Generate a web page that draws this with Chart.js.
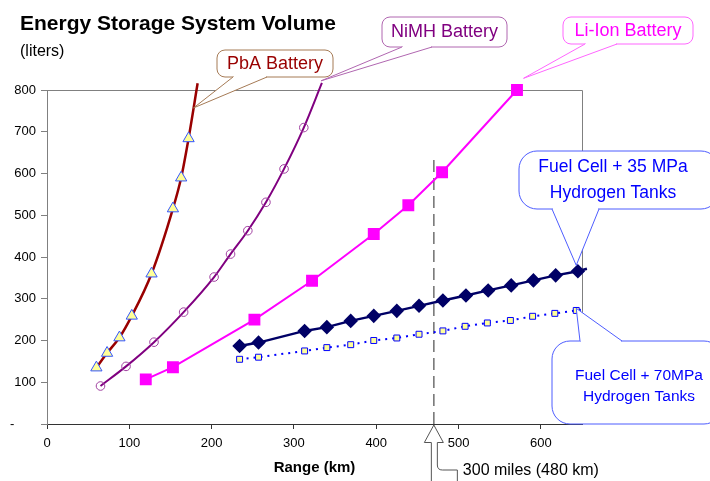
<!DOCTYPE html>
<html>
<head>
<meta charset="utf-8">
<script src="https://cdn.jsdelivr.net/npm/chart.js@4/dist/chart.umd.min.js"></script>
<style>
  body { margin: 0; background: #fff; }
  #volumeChart { display: block; }
</style>
</head>
<body>
<canvas id="volumeChart" width="710" height="481"></canvas>
<script>
// values (range in km, volume in liters)
const pbaRange = [60, 73, 88, 103, 127, 153, 163, 172, 183];
const pbaVolume = [135, 170, 207, 259, 360, 516, 590, 684, 816];

const nimhRange = [65, 96, 130, 166, 203, 223, 244, 266, 288, 312, 334];
const nimhVolume = [91, 138, 196, 268, 352, 407, 463, 531, 611, 710, 817];

const liionRange = [120, 153, 252, 322, 397, 439, 480, 571];
const liionVolume = [107, 136, 250, 343, 455, 524, 603, 800];

const h35Range = [234, 257, 313, 340, 369, 397, 425, 452, 481, 509, 536, 564, 591, 618, 645, 656];
const h35Volume = [187, 195, 223, 232, 247, 259, 271, 283, 296, 308, 320, 332, 344, 356, 366, 372];

const h70Range = [234, 257, 313, 340, 369, 397, 425, 452, 481, 508, 535, 563, 590, 617, 643, 654];
const h70Volume = [155, 160, 175, 183, 190, 200, 206, 215, 223, 234, 242, 248, 258, 265, 272, 275];

// 300 miles marker
const targetRange = [470, 470];
const targetVolume = [0, 640];

const xTicks = [0, 100, 200, 300, 400, 500, 600];
const yTicks = [0, 100, 200, 300, 400, 500, 600, 700, 800];

const FONT = '"Liberation Sans", Arial, sans-serif';

const pts = (xs, ys) => xs.map((x, i) => ({ x: x, y: ys[i] }));
// last point of some series is only the line running on, no marker
const lastHidden = (n, r) => Array.from({ length: n }, (_, i) => i === n - 1 ? 0 : r);

// callout bubbles: box in pixels, tip anchored to a data value
const callouts = [
  { lines: ['PbA Battery'], box: [217, 50, 116, 27], r: 8, size: 18, gap: 0, color: '#990000', edge: '#a57a55', side: 'bottom', base: [233, 267], tip: [178, 757] },
  { lines: ['NiMH Battery'], box: [382, 17, 125, 30], r: 8, size: 18, gap: 0, color: '#800080', edge: '#b066b0', side: 'bottom', base: [402, 432], tip: [333, 822] },
  { lines: ['Li-Ion Battery'], box: [563, 17, 130, 27], r: 8, size: 18, gap: 0, color: '#ff00ff', edge: '#ff66ff', side: 'bottom', base: [585, 617], tip: [579, 828] },
  { lines: ['Fuel Cell + 35 MPa', 'Hydrogen Tanks'], box: [519, 151, 200, 58], r: 18, size: 17.5, gap: 26, color: '#0000ff', edge: '#4d5cff', side: 'bottom', base: [552, 599], tip: [643, 380] },
  { lines: ['Fuel Cell + 70MPa', 'Hydrogen Tanks'], box: [552, 341, 170, 83], r: 18, size: 15.5, gap: 21, color: '#0000ff', edge: '#4d5cff', side: 'top', base: [580, 622], tip: [643, 277] },
];

function roundBox(c, x, y, w, h, r) {
  c.beginPath();
  c.moveTo(x + r, y);
  c.arcTo(x + w, y, x + w, y + h, r);
  c.arcTo(x + w, y + h, x, y + h, r);
  c.arcTo(x, y + h, x, y, r);
  c.arcTo(x, y, x + w, y, r);
  c.closePath();
}

const framePlugin = {
  id: 'frame',
  beforeDatasetsDraw(chart) {
    const { ctx, chartArea: a } = chart;
    ctx.save();
    ctx.strokeStyle = '#808080';
    ctx.lineWidth = 1;
    ctx.beginPath();
    ctx.moveTo(a.left, a.top + 0.5);
    ctx.lineTo(a.right + 0.5, a.top + 0.5);
    ctx.lineTo(a.right + 0.5, a.bottom);
    ctx.stroke();
    ctx.restore();
  },
  afterDraw(chart) {
    const { ctx, scales } = chart;
    ctx.save();
    // titles
    ctx.fillStyle = '#000';
    ctx.textAlign = 'left';
    ctx.textBaseline = 'alphabetic';
    ctx.font = 'bold 21px ' + FONT;
    ctx.fillText('Energy Storage System Volume', 20, 29.5);
    ctx.font = '16px ' + FONT;
    ctx.fillText('(liters)', 20, 56);

    // callouts
    callouts.forEach(c => {
      const [x, y, w, h] = c.box;
      const tx = scales.x.getPixelForValue(c.tip[0]);
      const ty = scales.y.getPixelForValue(c.tip[1]);
      const ey = c.side === 'top' ? y : y + h;
      ctx.setLineDash([]);
      ctx.lineWidth = 1;
      ctx.strokeStyle = c.edge;
      ctx.fillStyle = '#fff';
      roundBox(ctx, x, y, w, h, c.r);
      ctx.fill();
      ctx.stroke();
      ctx.beginPath();
      ctx.moveTo(c.base[0], ey);
      ctx.lineTo(tx, ty);
      ctx.lineTo(c.base[1], ey);
      ctx.closePath();
      ctx.fill();
      ctx.fillRect(c.base[0] + 1, ey - 1.5, c.base[1] - c.base[0] - 2, 3);
      ctx.beginPath();
      ctx.moveTo(c.base[0], ey);
      ctx.lineTo(tx, ty);
      ctx.lineTo(c.base[1], ey);
      ctx.stroke();
      ctx.fillStyle = c.color;
      ctx.font = c.size + 'px ' + FONT;
      ctx.textAlign = 'center';
      ctx.textBaseline = 'middle';
      const cx = c === callouts[3] ? 613 : (c === callouts[4] ? 639 : x + w / 2);
      const cy = c.lines.length === 1 ? y + h / 2 + 0.5 : (c.side === 'top' ? 376 : 167);
      c.lines.forEach((t, i) => ctx.fillText(t, cx, cy + i * c.gap));
    });

    // bent hollow arrow pointing at 480 km
    const ax = scales.x.getPixelForValue(targetRange[0]);
    const ay = scales.y.getPixelForValue(0) + 1;
    ctx.strokeStyle = '#555';
    ctx.fillStyle = '#fff';
    ctx.lineWidth = 1;
    ctx.beginPath();
    ctx.moveTo(ax - 2.5, ay + 60);
    ctx.lineTo(ax - 2.5, ay + 17.5);
    ctx.lineTo(ax - 9.5, ay + 17.5);
    ctx.lineTo(ax, ay);
    ctx.lineTo(ax + 9.5, ay + 17.5);
    ctx.lineTo(ax + 3.5, ay + 17.5);
    ctx.lineTo(ax + 3.5, ay + 40);
    ctx.quadraticCurveTo(ax + 3.5, ay + 45, ax + 8.5, ay + 45);
    ctx.lineTo(ax + 23.5, ay + 45);
    ctx.lineTo(ax + 23.5, ay + 60);
    ctx.fill();
    ctx.stroke();
    ctx.fillStyle = '#000';
    ctx.font = '16px ' + FONT;
    ctx.textAlign = 'left';
    ctx.textBaseline = 'middle';
    ctx.fillText('300 miles (480 km)', ax + 29, 471);
    ctx.restore();
  }
};

let ctx = document.querySelector('#volumeChart');

// note: Chart.js paints the first dataset last, so it ends up on top
let volumeChart = new Chart(ctx, {
  type: 'line',
  data: {
    datasets: [
      {
        label: 'PbA Battery',
        data: pts(pbaRange, pbaVolume),
        borderColor: '#990000',
        borderWidth: 2.5,
        tension: 0.4,
        cubicInterpolationMode: 'monotone',
        pointStyle: 'triangle',
        pointRadius: lastHidden(pbaRange.length, 6.5),
        pointBackgroundColor: '#ffff99',
        pointBorderColor: '#3355ff',
        pointBorderWidth: 1,
        clip: false
      },
      {
        label: 'NiMH Battery',
        data: pts(nimhRange, nimhVolume),
        borderColor: '#800080',
        borderWidth: 2,
        tension: 0.4,
        cubicInterpolationMode: 'monotone',
        pointStyle: 'circle',
        pointRadius: 4.3,
        pointBackgroundColor: 'rgba(255,255,255,0)',
        pointBorderColor: '#a040a0',
        pointBorderWidth: 1,
        clip: false
      },
      {
        label: 'Li-Ion Battery',
        data: pts(liionRange, liionVolume),
        borderColor: '#ff00ff',
        borderWidth: 2,
        tension: 0,
        pointStyle: 'rect',
        pointRadius: 7,
        pointBackgroundColor: '#ff00ff',
        pointBorderColor: '#ff00ff',
        clip: false
      },
      {
        label: 'Fuel Cell + 35 MPa Hydrogen Tanks',
        data: pts(h35Range, h35Volume),
        borderColor: '#000066',
        borderWidth: 2.5,
        tension: 0,
        pointStyle: 'rectRot',
        pointRadius: lastHidden(h35Range.length, 5.5),
        pointBackgroundColor: '#000066',
        pointBorderColor: '#000066',
        clip: false
      },
      {
        // 70MPa markers, above their dotted line
        label: 'Fuel Cell + 70MPa markers',
        data: pts(h70Range, h70Volume),
        showLine: false,
        pointStyle: 'rect',
        pointRadius: lastHidden(h70Range.length, 4.2),
        pointBackgroundColor: '#ffff99',
        pointBorderColor: '#0000ff',
        pointBorderWidth: 1,
        clip: false
      },
      {
        label: 'Fuel Cell + 70MPa Hydrogen Tanks',
        data: pts(h70Range, h70Volume),
        borderColor: '#0000ff',
        borderWidth: 2,
        borderDash: [2, 5],
        tension: 0,
        pointRadius: 0,
        clip: false
      },
      {
        label: '300 miles',
        data: pts(targetRange, targetVolume),
        borderColor: '#707070',
        borderWidth: 1.5,
        borderDash: [12, 6],
        pointRadius: 0,
        clip: false
      }
    ]
  },
  options: {
    responsive: false,
    animation: false,
    layout: { padding: { top: 90, right: 128, left: 0, bottom: 0 } },
    plugins: {
      legend: { display: false },
      tooltip: { enabled: false }
    },
    scales: {
      x: {
        type: 'linear',
        min: 0,
        max: 650,
        afterFit: s => { s.height = 57; },
        afterBuildTicks: s => { s.ticks = xTicks.map(v => ({ value: v })); },
        grid: { drawOnChartArea: false, drawTicks: true, tickLength: 5, color: '#333' },
        border: { display: true, color: '#333', width: 1 },
        ticks: { padding: 7, color: '#000', font: { family: FONT, size: 13 }, maxRotation: 0 },
        title: {
          display: true,
          text: 'Range (km)',
          color: '#000',
          font: { family: FONT, size: 15, weight: 'bold' },
          padding: { top: 0, bottom: 4 }
        }
      },
      y: {
        type: 'linear',
        min: 0,
        max: 800,
        afterFit: s => { s.width = 47; },
        afterBuildTicks: s => { s.ticks = yTicks.map(v => ({ value: v })); },
        grid: { drawOnChartArea: false, drawTicks: true, tickLength: 6, color: '#808080' },
        border: { display: true, color: '#808080', width: 1 },
        ticks: {
          padding: 5,
          color: '#000',
          font: { family: FONT, size: 13 },
          callback: v => v === 0 ? '-      ' : v
        }
      }
    }
  },
  plugins: [framePlugin]
});
</script>
</body>
</html>
